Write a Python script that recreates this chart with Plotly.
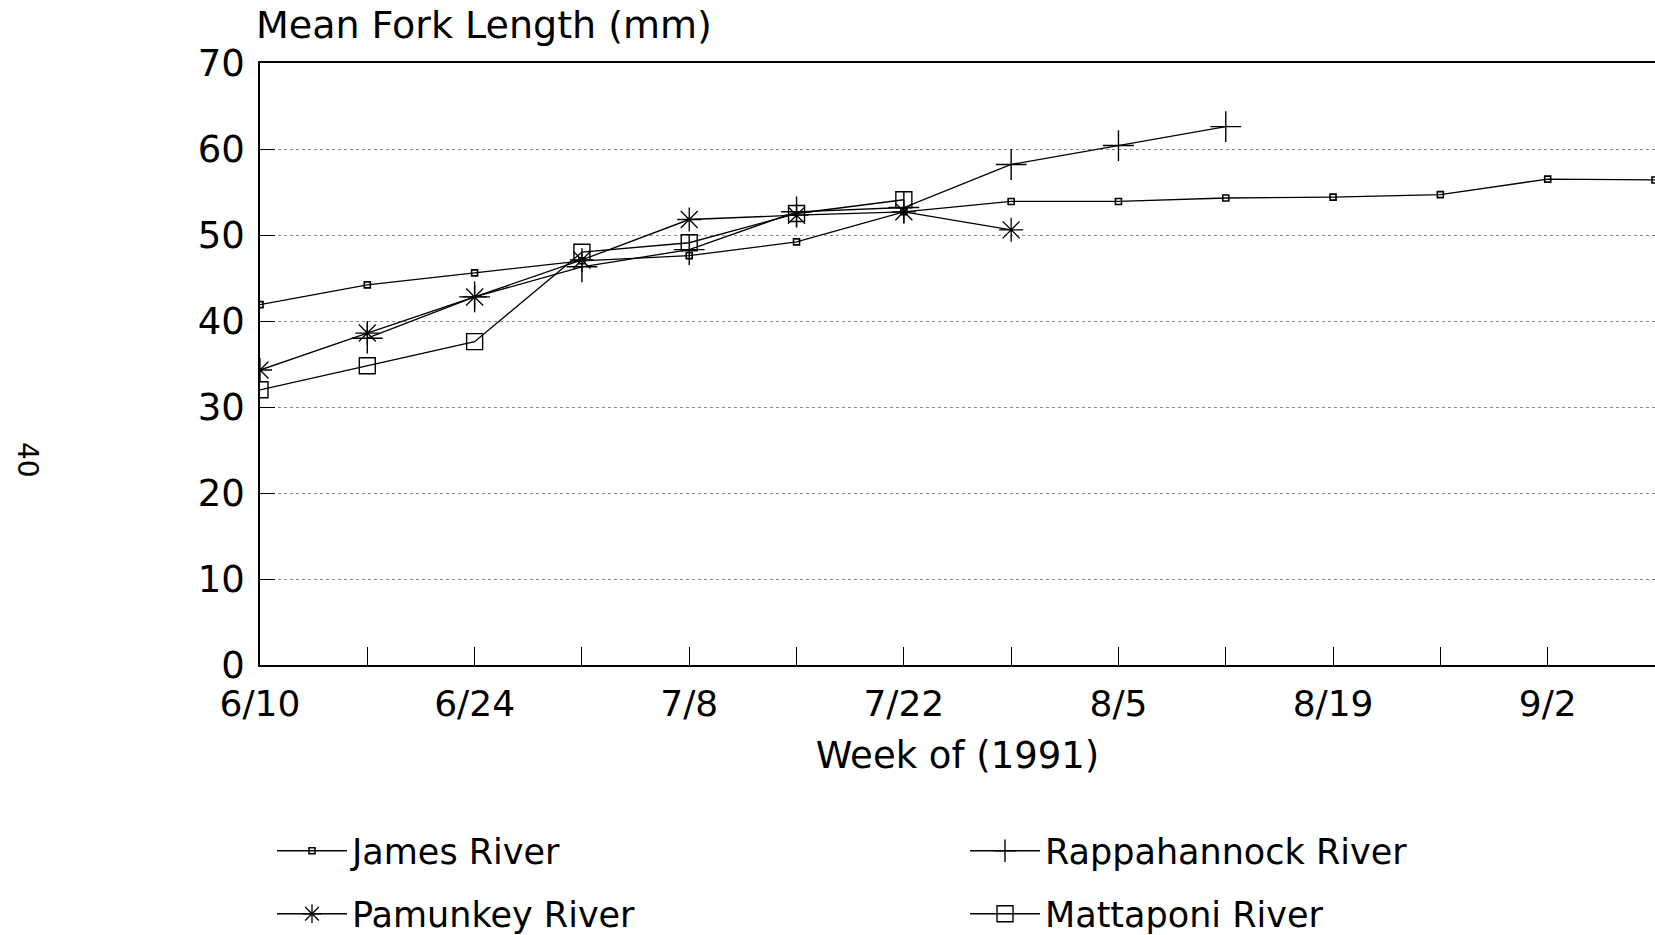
import plotly.graph_objects as go

# ---- data ----
weeks = ["1991-06-10", "1991-06-17", "1991-06-24", "1991-07-01", "1991-07-08",
         "1991-07-15", "1991-07-22", "1991-07-29", "1991-08-05", "1991-08-12",
         "1991-08-19", "1991-08-26", "1991-09-02", "1991-09-09"]

james = [41.9, 44.2, 45.6, 47.0, 47.6, 49.2, 52.7, 53.9, 53.9, 54.3, 54.4, 54.7, 56.5, 56.4]
rappahannock = [None, 38.0, 42.8, 46.3, 48.3, 52.7, 53.2, 58.2, 60.4, 62.6]
pamunkey = [34.3, 38.6, 42.8, 47.1, 51.8, 52.3, 52.7, 50.6]
mattaponi = [32.0, 34.8, 37.6, 48.0, 49.1, 52.5, 54.1]

tick_dates = ["1991-06-10", "1991-06-24", "1991-07-08", "1991-07-22",
              "1991-08-05", "1991-08-19", "1991-09-02"]
tick_labels = ["6/10", "6/24", "7/8", "7/22", "8/5", "8/19", "9/2"]
y_ticks = [0, 10, 20, 30, 40, 50, 60, 70]

FONT = "DejaVu Sans"
W, H = 1655, 935
L, T, B = 260, 63, 270
PW, PH = W - L, H - T - B

# name, values, marker, legend id, legend position (px from left, px from top)
series = [
    ("James River", james, dict(symbol="square-open", size=6, line=dict(width=1.6, color="black")), "legend", (272, 851)),
    ("Rappahannock River", rappahannock, dict(symbol="cross-thin-open", size=22, line=dict(width=1.4, color="black")), "legend2", (965, 851)),
    ("Pamunkey River", pamunkey, dict(symbol="asterisk-open", size=20, line=dict(width=1.3, color="black")), "legend3", (272, 914)),
    ("Mattaponi River", mattaponi, dict(symbol="square-open", size=16, line=dict(width=1.4, color="black")), "legend4", (965, 914)),
]

fig = go.Figure()
legends = {}
for name, vals, mk, lg, (lx, ly) in series:
    fig.add_trace(go.Scatter(
        x=weeks[:len(vals)], y=vals, name=name, mode="lines+markers",
        line=dict(color="black", width=1.3),
        marker=dict(color="black", **mk),
        legend=lg,
    ))
    legends[lg] = dict(
        orientation="h", xref="container", yref="container",
        x=lx / W, xanchor="left", y=1 - ly / H, yanchor="middle",
        itemwidth=70,
        font=dict(family=FONT, size=35, color="black"),
        bgcolor="rgba(0,0,0,0)", borderwidth=0,
    )

fig.update_layout(
    width=W, height=H,
    margin=dict(l=L, r=0, t=T, b=B, autoexpand=False),
    paper_bgcolor="white", plot_bgcolor="white",
    font=dict(family=FONT, size=37, color="black"),
    showlegend=True,
    **legends,
    xaxis=dict(
        type="date",
        range=["1991-06-10", "1991-09-09"],
        tickmode="array", tickvals=tick_dates, ticktext=tick_labels,
        ticks="inside", ticklen=18, tickwidth=1, tickcolor="black",
        minor=dict(dtick=7 * 86400000, tick0="1991-06-10", ticks="inside",
                   ticklen=18, tickwidth=1, tickcolor="black", showgrid=False),
        showline=True, linecolor="black", linewidth=1.5, mirror=True,
        showgrid=False, zeroline=False, automargin=False,
        tickfont=dict(family=FONT, size=36, color="black"),
        ticklabelstandoff=6,
        title=dict(text="Week of (1991)", font=dict(family=FONT, size=37, color="black"), standoff=19),
    ),
    yaxis=dict(
        range=[0, 70], tickvals=y_ticks,
        ticks="inside", ticklen=15, tickwidth=1, tickcolor="black",
        showline=True, linecolor="black", linewidth=1.5, mirror=True,
        showgrid=True, gridcolor="#8a8a8a", gridwidth=1, griddash="dot",
        zeroline=False, automargin=False,
        tickfont=dict(family=FONT, size=37, color="black"),
        ticklabelstandoff=6,
    ),
    annotations=[
        dict(text="Mean Fork Length (mm)", xref="paper", yref="paper",
             x=0, xanchor="left", xshift=-6, y=(H - B - 25) / PH, yanchor="middle",
             showarrow=False, font=dict(family=FONT, size=38, color="black")),
        dict(text="40", xref="paper", yref="paper",
             x=(27 - L) / PW, y=(H - B - 460) / PH, xanchor="center", yanchor="middle",
             textangle=90, showarrow=False,
             font=dict(family=FONT, size=28, color="black")),
    ],
)

fig.write_html(
    "out.html",
    config={"displayModeBar": False},
    post_script="document.body.style.margin='0';document.body.style.overflow='hidden';",
)
